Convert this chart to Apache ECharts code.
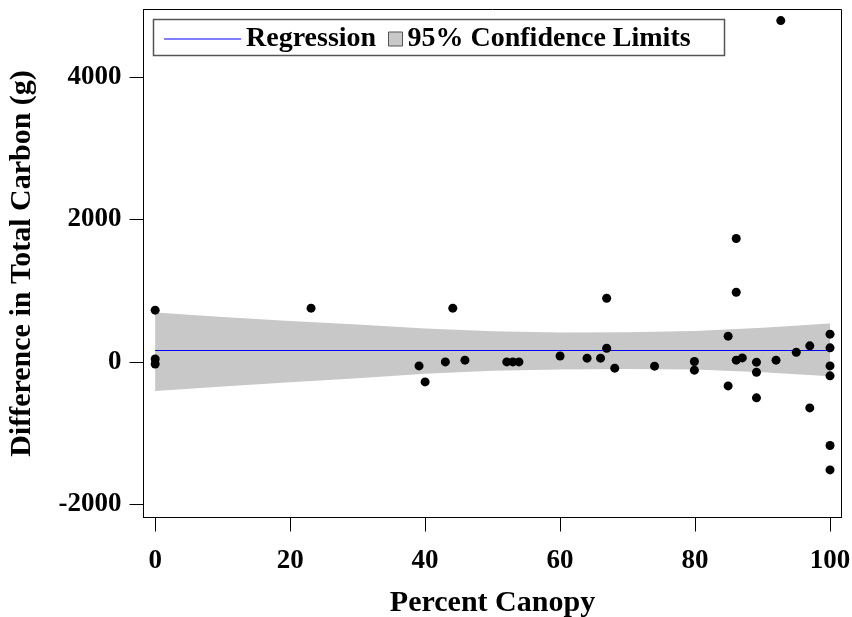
<!DOCTYPE html>
<html>
<head>
<meta charset="utf-8">
<script src="https://cdn.jsdelivr.net/npm/echarts@6/dist/echarts.min.js"></script>
<style>
  html, body { margin: 0; padding: 0; background: #fff; }
  #chart-container { width: 852px; height: 617px; }
</style>
</head>
<body>
<div id="chart-container"></div>
<script>
// observed points
const canopy = [0, 0, 0, 23.1, 39.1, 40, 43, 44.1, 45.9, 52.1, 53, 53.9, 60, 64, 66, 66.9, 66.9, 68.1, 74,
  79.9, 79.9, 84.9, 84.9, 86.1, 86.1, 86.1, 87, 89.1, 89.1, 89.1, 92, 92.7, 95, 97, 97,
  100, 100, 100, 100, 100, 100];
const carbon = [726, 40, -30, 754, -56, -281, 0, 754, 24, 0, 0, 0, 82, 52, 52, 894, 192, -88, -60,
  6, -116, 361, -337, 1732, 978, 24, 56, -4, -145, -505, 24, 4790, 136, 225, -646,
  389, 197, -56, -196, -1173, -1516];

// regression line + 95% limits
const regX = [0, 100];
const regY = [160, 160];
const bandX = [0, 10, 20, 30, 40, 50, 60, 70, 80, 90, 100];
const bandUpper = [693, 630, 575, 525, 470, 430, 412, 415, 435, 480, 539];
const bandLower = [-407, -345, -285, -230, -165, -125, -107, -100, -107, -145, -201];

const xTicks = [0, 20, 40, 60, 80, 100];
const yTicks = [-2000, 0, 2000, 4000];

const font = "'Liberation Serif', 'Times New Roman', serif";

var dom = document.getElementById('chart-container');
var myChart = echarts.init(dom, null, { renderer: 'canvas' });

var option = {
    animation: false,
    backgroundColor: '#fff',
    grid: {
        left: 143.5, right: 10.5, top: 9.5, bottom: 99.5,
        containLabel: false, outerBoundsMode: 'none',
        show: true, borderColor: '#000', borderWidth: 1
    },
    xAxis: {
        type: 'value',
        min: -1.73, max: 101.7,
        name: 'Percent Canopy',
        nameLocation: 'middle',
        nameGap: 71,
        nameTextStyle: { fontFamily: font, fontWeight: 'bold', fontSize: 30, color: '#000' },
        axisLine: { show: true, onZero: false, lineStyle: { color: '#000' } },
        axisTick: { show: true, length: 14, customValues: xTicks, lineStyle: { color: '#000' } },
        axisLabel: { customValues: xTicks, margin: 30, formatter: v => String(v),
                     fontFamily: font, fontWeight: 'bold', fontSize: 27, color: '#000' },
        splitLine: { show: false }
    },
    yAxis: {
        type: 'value',
        min: -2184, max: 4946,
        name: 'Difference in Total Carbon (g)',
        nameLocation: 'middle',
        nameGap: 106,
        nameRotate: 90,
        nameTextStyle: { fontFamily: font, fontWeight: 'bold', fontSize: 30, color: '#000' },
        axisLine: { show: true, onZero: false, lineStyle: { color: '#000' } },
        axisTick: { show: true, length: 14, customValues: yTicks, lineStyle: { color: '#000' } },
        axisLabel: { customValues: yTicks, margin: 22, formatter: v => String(v),
                     fontFamily: font, fontWeight: 'bold', fontSize: 27, color: '#000' },
        splitLine: { show: false }
    },
    legend: [
        {
            left: 159, top: 20,
            itemWidth: 77, itemHeight: 14,
            textStyle: { fontFamily: font, fontWeight: 'bold', fontSize: 28, color: '#000' },
            data: [{ name: 'Regression', icon: 'path://M0 0 H77 V1 H0 Z',
                     itemStyle: { color: '#0000ff', opacity: 1 } }]
        },
        {
            left: 383, top: 20,
            itemWidth: 14, itemHeight: 14,
            textStyle: { fontFamily: font, fontWeight: 'bold', fontSize: 28, color: '#000' },
            data: [{ name: '95% Confidence Limits', icon: 'rect',
                     itemStyle: { color: '#c8c8c8', borderColor: '#555', borderWidth: 1 } }]
        }
    ],
    graphic: [
        { type: 'rect', left: 151, top: 17, shape: { width: 571, height: 36 },
          style: { fill: 'none', stroke: '#555', lineWidth: 1.5 } }
    ],
    series: [
        {
            name: '95% Confidence Limits',
            type: 'custom',
            z: 1,
            data: bandX.map((x, i) => [x, bandUpper[i], bandLower[i]]),
            encode: { x: 0, y: [1, 2] },
            itemStyle: { color: '#c8c8c8' },
            renderItem: function (params, api) {
                if (params.dataIndex !== 0) return;
                var pts = [];
                for (var i = 0; i < bandX.length; i++) pts.push(api.coord([bandX[i], bandUpper[i]]));
                for (var j = bandX.length - 1; j >= 0; j--) pts.push(api.coord([bandX[j], bandLower[j]]));
                return { type: 'polygon', shape: { points: pts }, style: { fill: '#c8c8c8' } };
            }
        },
        {
            name: 'Regression',
            type: 'line',
            z: 2,
            symbol: 'none',
            data: regX.map((x, i) => [x, regY[i]]),
            lineStyle: { color: '#0000ff', width: 1.2 },
            itemStyle: { color: '#0000ff' }
        },
        {
            name: 'data',
            type: 'scatter',
            z: 3,
            symbol: 'circle',
            symbolSize: 9,
            data: canopy.map((x, i) => [x, carbon[i]]),
            itemStyle: { color: '#000', opacity: 1 }
        }
    ]
};

myChart.setOption(option);
</script>
</body>
</html>
